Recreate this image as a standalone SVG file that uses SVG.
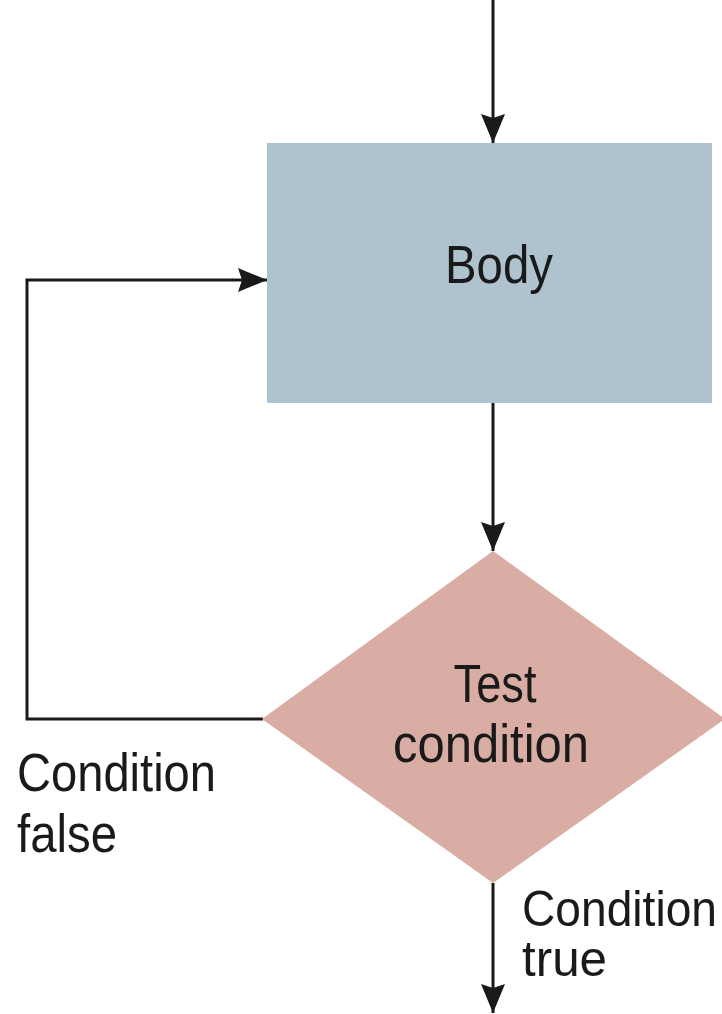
<svg xmlns="http://www.w3.org/2000/svg" width="722" height="1014" viewBox="0 0 722 1014">
<style>
.lbl{font-family:"Liberation Sans",Arial,sans-serif;font-size:54px;fill:#1a1a1a}
.sm{font-size:50px}
.ln{fill:none;stroke:#1a1a1a;stroke-width:3}
</style>
<defs>
<marker id="ah" markerUnits="userSpaceOnUse" markerWidth="30" markerHeight="24" refX="29" refY="12" orient="auto">
<path d="M0,0 L29,12 L0,24 L4,12 z" fill="#1a1a1a"/>
</marker>
</defs>
<rect width="722" height="1014" fill="#ffffff"/>
<g id="connectors">
<line class="ln" x1="493" y1="0" x2="493" y2="143" marker-end="url(#ah)"/>
<line class="ln" x1="493" y1="403" x2="493" y2="551" marker-end="url(#ah)"/>
<polyline class="ln" points="263,719 27,719 27,280 267,280" marker-end="url(#ah)"/>
<line class="ln" x1="493" y1="883" x2="493" y2="1013" marker-end="url(#ah)"/>
</g>
<g id="body">
<rect x="267" y="143" width="445" height="260" fill="#aec3ce"/>
<text class="lbl" x="499" y="283" text-anchor="middle" textLength="108" lengthAdjust="spacingAndGlyphs">Body</text>
</g>
<g id="test">
<polygon points="493,551 725,719 493,883 262,719" fill="#d9ada3"/>
<text class="lbl" x="495" y="702" text-anchor="middle" textLength="83" lengthAdjust="spacingAndGlyphs">Test</text>
<text class="lbl" x="491" y="762" text-anchor="middle" textLength="196" lengthAdjust="spacingAndGlyphs">condition</text>
</g>
<g id="label-false">
<text class="lbl" x="17" y="791" textLength="199" lengthAdjust="spacingAndGlyphs">Condition</text>
<text class="lbl" x="17" y="852" textLength="100" lengthAdjust="spacingAndGlyphs">false</text>
</g>
<g id="label-true">
<text class="lbl sm" x="522" y="926" textLength="195" lengthAdjust="spacingAndGlyphs">Condition</text>
<text class="lbl sm" x="522" y="976" textLength="85" lengthAdjust="spacingAndGlyphs">true</text>
</g>
</svg>
